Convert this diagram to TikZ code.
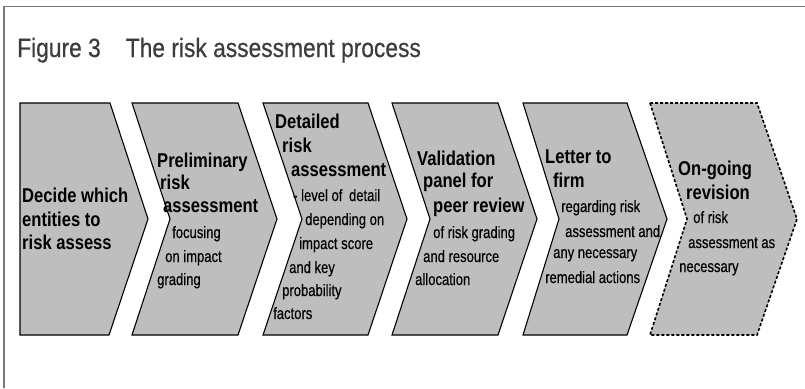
\documentclass[tikz,border=0pt]{standalone}
\usepackage{fontspec}
\setmainfont{Liberation Sans}
\newfontfamily\tfont{Liberation Sans}[FakeStretch=0.86,FakeBold=0.6]
\newfontfamily\hfont{Liberation Sans}[FakeStretch=0.83]
\newfontfamily\bfont{Liberation Sans}[FakeStretch=0.79,FakeBold=0.4]
\definecolor{chevgray}{RGB}{190,190,190}
\definecolor{titlegray}{RGB}{60,60,60}
\definecolor{framegray}{RGB}{120,120,120}
\tikzset{
  chev/.style={fill=chevgray, draw=black, line width=1.1pt, line join=miter},
  chevdash/.style={fill=chevgray, draw=black, line width=1.6pt, dash pattern=on 3pt off 2pt},
  head/.style={anchor=base west, inner sep=0pt, font=\hfont\bfseries\fontsize{20}{20}\selectfont},
  body/.style={anchor=base west, inner sep=0pt, font=\bfont\fontsize{16.5}{16.5}\selectfont},
  ttl/.style={anchor=base west, inner sep=0pt, text=titlegray, font=\tfont\fontsize{26.5}{26.5}\selectfont},
  frame/.style={draw=framegray, line width=1.6pt}
}
\begin{document}
\begin{tikzpicture}[x=1pt,y=-1pt]
\useasboundingbox (0,0) rectangle (805,388);
% frame
\draw[frame] (4,388) -- (4,6.5) -- (805,6.5);
% title
\node[ttl] (title) at (17,57) {Figure 3\hspace{25pt}The risk assessment process};
% chevrons
\draw[chev] (20,103) -- (110,103) -- (148,219) -- (109,335) -- (20,335) -- cycle;
\draw[chev] (132,103) -- (238,103) -- (277,219) -- (238,335) -- (132,335) -- (170,219) -- cycle;
\draw[chev] (263,103) -- (368,103) -- (407,219) -- (368,335) -- (263,335) -- (302,219) -- cycle;
\draw[chev] (392,103) -- (498,103) -- (537,219) -- (498,335) -- (392,335) -- (430,219) -- cycle;
\draw[chev] (523,103) -- (627,103) -- (667,219) -- (627,335) -- (523,335) -- (559,219) -- cycle;
\draw[chevdash] (650,103) -- (757,103) -- (797,219) -- (757,335) -- (650,335) -- (687,219) -- cycle;
% chevron 1
\node[head] (a1) at (22,202) {Decide which};
\node[head] (a2) at (22,226) {entities to};
\node[head] (a3) at (22,249) {risk assess};
% chevron 2
\node[head] (b1) at (157,167) {Preliminary};
\node[head] (b2) at (160,189) {risk};
\node[head] (b3) at (163,212) {assessment};
\node[body] (b4) at (172,238) {focusing};
\node[body] (b5) at (165,262) {on impact};
\node[body] (b6) at (157,285) {grading};
% chevron 3
\node[head] (c1) at (275,128) {Detailed};
\node[head] (c2) at (282,152) {risk};
\node[head] (c3) at (291,176) {assessment};
\node[body] (c4) at (293,201) {- level of\hspace{3pt} detail};
\node[body] (c5) at (305,225) {depending on};
\node[body] (c6) at (299,249) {impact score};
\node[body] (c7) at (289,273) {and key};
\node[body] (c8) at (282,296) {probability};
\node[body] (c9) at (273,319) {factors};
% chevron 4
\node[head] (d1) at (417,165) {Validation};
\node[head] (d2) at (423,187) {panel for};
\node[head] (d3) at (433,212) {peer review};
\node[body] (d4) at (433,238) {of risk grading};
\node[body] (d5) at (423,262) {and resource};
\node[body] (d6) at (415,285) {allocation};
% chevron 5
\node[head] (e1) at (545,163) {Letter to};
\node[head] (e2) at (553,187) {firm};
\node[body] (e3) at (561,212) {regarding risk};
\node[body] (e4) at (565,237) {assessment and};
\node[body] (e5) at (553,258) {any necessary};
\node[body] (e6) at (545,283) {remedial actions};
% chevron 6
\node[head] (f1) at (678,175) {On-going};
\node[head] (f2) at (686,199) {revision};
\node[body] (f3) at (693,223) {of risk};
\node[body] (f4) at (688,248) {assessment as};
\node[body] (f5) at (679,272) {necessary};
\end{tikzpicture}
\end{document}
